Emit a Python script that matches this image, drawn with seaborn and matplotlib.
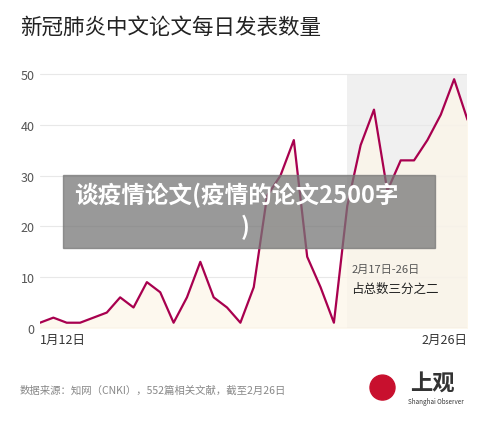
import numpy as np
import pandas as pd
import matplotlib.pyplot as plt
import seaborn as sns
from matplotlib.patches import Rectangle, Ellipse

counts = [1, 2, 1, 1, 2, 3, 6, 4, 9, 7, 1, 6, 13, 6, 4, 1, 8, 26, 30, 37,
          14, 8, 1, 24, 36, 43, 27, 33, 33, 37, 42, 49, 41]
yticks = [0, 10, 20, 30, 40, 50]
shade_start = 23

sns.set_theme(style='white')
plt.rcParams['font.family'] = ['Noto Sans CJK SC', 'DejaVu Sans']

df = pd.DataFrame({'day': np.arange(len(counts)), 'n': counts})
n = len(counts) - 1

fig = plt.figure(figsize=(5, 4.27), dpi=100)
ax = fig.add_axes([0.08, 0.23, 0.855, 0.60])
ax.add_patch(Rectangle((shade_start, 0), n - shade_start, 50, color='#f0f0f0', zorder=0, lw=0))
ax.fill_between(df['day'], df['n'], color='#fdf6e8', alpha=0.7, zorder=1)
sns.lineplot(data=df, x='day', y='n', color='#a8004f', lw=1.6, ax=ax, zorder=3)
ax.set_xlim(0, n)
ax.set_ylim(0, 50.5)
ax.set_yticks(yticks)
ax.set_xticks([0, n])
ax.set_xticklabels(['1月12日', '2月26日'], fontsize=9, color='#333333')
ax.get_xticklabels()[0].set_ha('left')
ax.get_xticklabels()[1].set_ha('right')
ax.tick_params(axis='y', labelsize=9, colors='#555555', length=0, pad=4)
ax.tick_params(axis='x', length=0, pad=4)
ax.grid(axis='y', color='#e8e8e8', lw=0.8)
ax.set_xlabel('')
ax.set_ylabel('')
for s in ax.spines.values():
    s.set_visible(False)
ax.axhline(0, color='#cccccc', lw=0.8)
ax.text(shade_start + 0.3, 11, '2月17日-26日', fontsize=8, color='#555555')
ax.text(shade_start + 0.3, 7, '占总数三分之二', fontsize=9, color='#222222')

fig.text(0.04, 0.935, '新冠肺炎中文论文每日发表数量', fontsize=15.5, color='#222222', va='center', weight='medium')
fig.text(0.04, 0.085, '数据来源：知网（CNKI），552篇相关文献，截至2月26日', fontsize=7.5, color='#888888', va='center')
fig.text(0.82, 0.1, '上观', fontsize=16, color='#333333', va='center', weight='bold')
fig.text(0.815, 0.058, 'Shanghai Observer', fontsize=4.5, color='#333333', va='center')
fig.patches.append(Ellipse((0.765, 0.09), 0.05, 0.0585, transform=fig.transFigure, color='#c8102e', figure=fig))

fig.patches.append(Rectangle((0.126, 0.418), 0.744, 0.17, transform=fig.transFigure,
                             color='#777777', alpha=0.75, figure=fig, zorder=10))
fig.text(0.148, 0.543, '谈疫情论文(疫情的论文2500字', fontsize=17, color='white', weight='bold',
         ha='left', va='center', zorder=11)
fig.text(0.49, 0.467, ')', fontsize=17, color='white', weight='bold', ha='center', va='center', zorder=11)

fig.savefig('out.png', dpi=100)
